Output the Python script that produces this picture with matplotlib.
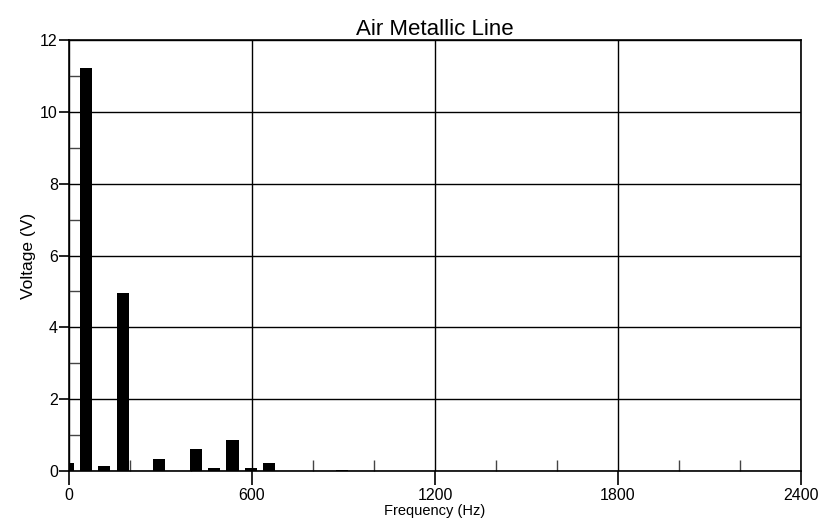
import numpy as np
import matplotlib
matplotlib.use("Agg")
import matplotlib.pyplot as plt
from matplotlib.ticker import MultipleLocator

plt.rcParams['font.family'] = ['Liberation Sans', 'DejaVu Sans']

# harmonic spectrum
freq_hz = [0, 60, 120, 180, 300, 420, 480, 540, 600, 660, 900]
voltage = [0.21, 11.22, 0.13, 4.97, 0.33, 0.61, 0.075, 0.85, 0.07, 0.22, 0.03]

fig = plt.figure(figsize=(8.31, 5.21), dpi=100)
ax = fig.add_axes([0.083, 0.096, 0.881, 0.827])

# bars sit a few Hz left of the harmonic in the original
ax.bar(np.array(freq_hz) - 4, voltage, width=40, color='black', zorder=3)

ax.set_xlim(0, 2400)
ax.set_ylim(0, 12)
ax.xaxis.set_major_locator(MultipleLocator(600))
ax.xaxis.set_minor_locator(MultipleLocator(200))
ax.yaxis.set_major_locator(MultipleLocator(2))
ax.yaxis.set_minor_locator(MultipleLocator(1))

ax.grid(True, which='major', color='black', linewidth=1.0)
ax.set_axisbelow(True)
for s in ax.spines.values():
    s.set_linewidth(1.2)

ax.tick_params(axis='x', which='major', direction='out', length=10, width=1.2, labelsize=11.5, pad=2)
ax.tick_params(axis='y', which='major', direction='out', length=7, width=1.2, labelsize=11.5, pad=1)
ax.tick_params(which='minor', direction='in', length=8, width=1, color='#444444')

ax.set_title("Air Metallic Line", fontsize=16, pad=2)
ax.set_xlabel("Frequency (Hz)", fontsize=10.5, labelpad=1)
ax.set_ylabel("Voltage (V)", fontsize=12.5, labelpad=3)

fig.savefig("out.png", dpi=100)
